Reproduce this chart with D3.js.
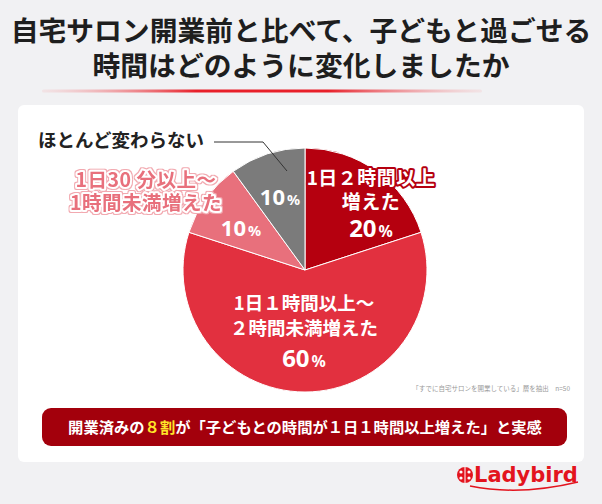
<!DOCTYPE html>
<html><head><meta charset="utf-8">
<script src="https://cdn.jsdelivr.net/npm/d3@7"></script>
<style>
html,body{margin:0;padding:0;background:#f1f1f3;}
svg{display:block;font-family:"Noto Sans CJK JP","Noto Sans",sans-serif;}
</style></head>
<body>
<script>
const titleLines = ["自宅サロン開業前と比べて、子どもと過ごせる", "時間はどのように変化しましたか"];
const categories = ["1日２時間以上増えた", "1日１時間以上～２時間未満増えた", "1日30分以上～1時間未満増えた", "ほとんど変わらない"];
const values = [20, 60, 10, 10];
const colors = ["#b5000f", "#e2303f", "#e8707c", "#7b7b7b"];
const footnote = "「すでに自宅サロンを開業している」層を抽出　n=50";

const W = 602, H = 504;
const svg = d3.select("body").append("svg").attr("width", W).attr("height", H);
const defs = svg.append("defs");

// outer pink halo filter
const f = defs.append("filter").attr("id","halo").attr("x","-10%").attr("y","-20%").attr("width","120%").attr("height","140%");
f.append("feMorphology").attr("in","SourceAlpha").attr("operator","dilate").attr("radius",1).attr("result","d");
f.append("feFlood").attr("flood-color","#f2a9b0").attr("result","c");
f.append("feComposite").attr("in","c").attr("in2","d").attr("operator","in").attr("result","o");
const fm = f.append("feMerge");
fm.append("feMergeNode").attr("in","o");
fm.append("feMergeNode").attr("in","SourceGraphic");

// title
const tt = svg.append("text").attr("text-anchor","middle").attr("font-size",27.8).attr("font-weight",700).attr("fill","#1e1e1e");
titleLines.forEach((d,i)=>tt.append("tspan").attr("x",W/2).attr("y",41+i*35).text(d));

const grad = defs.append("linearGradient").attr("id","ul");
grad.append("stop").attr("offset","0%").attr("stop-color","#f3c4c6").attr("stop-opacity",0.3);
grad.append("stop").attr("offset","35%").attr("stop-color","#e8202a");
grad.append("stop").attr("offset","65%").attr("stop-color","#e8202a");
grad.append("stop").attr("offset","100%").attr("stop-color","#f3c4c6").attr("stop-opacity",0.3);
svg.append("rect").attr("x",42).attr("y",89.5).attr("width",440).attr("height",3).attr("rx",1.5).attr("fill","url(#ul)");

// card
svg.append("rect").attr("x",18).attr("y",105).attr("width",566).attr("height",357).attr("rx",6).attr("fill","#ffffff");

// pie
const cx = 305, cy = 270, R = 122;
const pie = d3.pie().sort(null).value(d=>d)(values);
const arc = d3.arc().innerRadius(0).outerRadius(R);
const g = svg.append("g").attr("transform",`translate(${cx},${cy})`);
g.selectAll("path").data(pie).join("path")
  .attr("d",arc).attr("fill",(d,i)=>colors[i]).attr("stroke","#ffffff").attr("stroke-width",1);

// percent labels
function pct(x, y, v, size, color){
  const t = svg.append("text").attr("x",x).attr("y",y).attr("text-anchor","middle")
    .attr("font-family","'Noto Sans',sans-serif").attr("font-weight",700).attr("fill",color||"#fff");
  t.append("tspan").attr("font-size",size).text(v);
  t.append("tspan").attr("font-size",size*0.66).attr("dx",2).text("%");
}
pct(280, 205, values[3], 22);
pct(241, 236, values[2], 22);
pct(371, 237, values[0], 24);
pct(304, 367, values[1], 24);

function outlined(lines, x, y0, lh, size, fill, stroke, sw, ls, filter){
  const t = svg.append("text").attr("text-anchor","middle")
    .attr("font-size",size).attr("font-weight",700).attr("letter-spacing",ls||0).attr("fill",fill);
  if(stroke) t.attr("stroke",stroke).attr("stroke-width",sw).attr("stroke-linejoin","round").attr("paint-order","stroke");
  if(filter) t.attr("filter",filter);
  lines.forEach((l,i)=>t.append("tspan").attr("x",x).attr("y",y0+i*lh).text(l));
}
outlined(["1日２時間以上","増えた"], 371, 185, 24, 19, "#ffffff", "#b5000f", 4, 0.5);
outlined(["1日１時間以上～","２時間未満増えた"], 304, 310, 25, 18.5, "#ffffff", null, 0, 0);
outlined(["1日30 分以上～","1時間未満増えた"], 146, 187, 23, 19.5, "#e8707c", "#ffffff", 4, 0.5, "url(#halo)");

// label for gray
svg.append("text").attr("x",38).attr("y",147).attr("font-size",18.5).attr("font-weight",700)
  .attr("fill","#222").text(categories[3]);
svg.append("polyline").attr("points","214,142 263,142 287,171")
  .attr("fill","none").attr("stroke","#333").attr("stroke-width",1);

// footnote
svg.append("text").attr("x",570).attr("y",391).attr("text-anchor","end")
  .attr("font-size",6.5).attr("fill","#9a9a9a").text(footnote);

// banner
svg.append("rect").attr("x",42).attr("y",408).attr("width",525).attr("height",38).attr("rx",9).attr("fill","#a3000c");
const bt = svg.append("text").attr("x",305).attr("y",433).attr("text-anchor","middle")
  .attr("font-size",15.3).attr("font-weight",700).attr("fill","#fff");
bt.append("tspan").text("開業済みの");
bt.append("tspan").attr("fill","#ffe629").text("８割");
bt.append("tspan").text("が「子どもとの時間が１日１時間以上増えた」と実感");

// logo
const lg = svg.append("g");
lg.append("circle").attr("cx",465).attr("cy",475).attr("r",8).attr("fill","#e3141e");
lg.append("line").attr("x1",465).attr("y1",467).attr("x2",465).attr("y2",483).attr("stroke","#fff").attr("stroke-width",1);
[[461,472],[469,472],[461,478],[469,478]].forEach(p=>lg.append("circle").attr("cx",p[0]).attr("cy",p[1]).attr("r",1.6).attr("fill","#fff"));
lg.append("text").attr("x",474).attr("y",482).attr("font-family","'DejaVu Sans',sans-serif")
  .attr("font-size",21).attr("font-weight",700).attr("fill","#e3141e").text("Ladybird");
lg.append("path").attr("d","M470,486 Q520,496 578,482").attr("fill","none").attr("stroke","#e3141e").attr("stroke-width",1.5);
</script>
</body></html>
